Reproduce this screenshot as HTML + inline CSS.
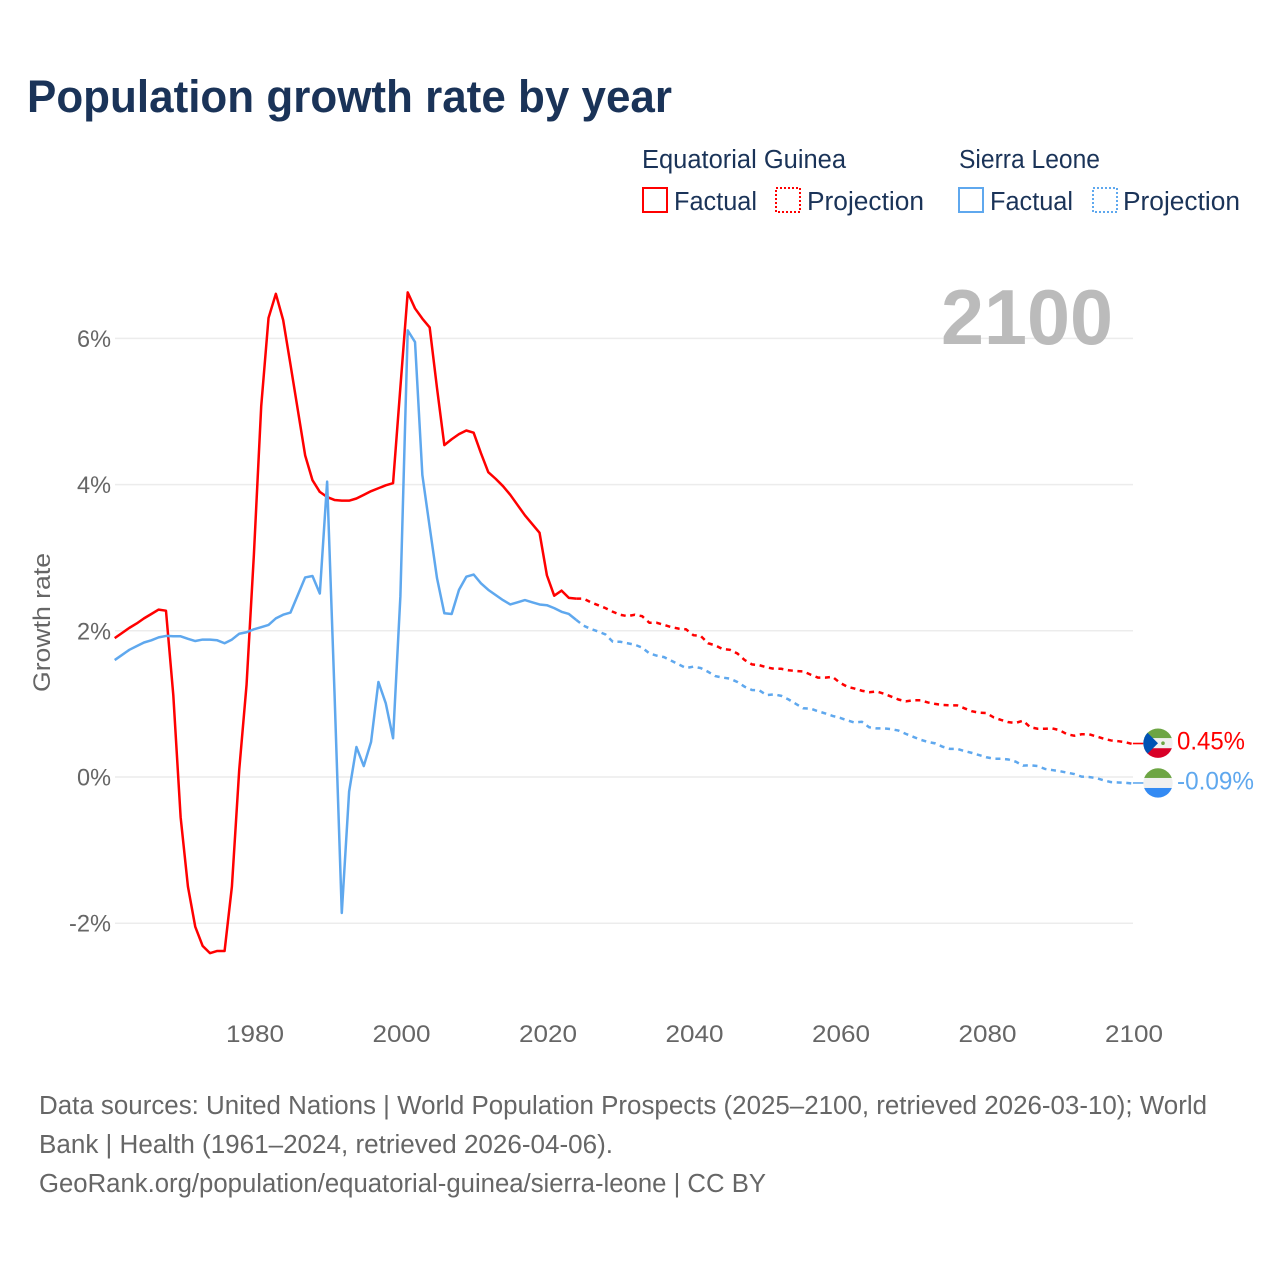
<!DOCTYPE html>
<html lang="en">
<head>
<meta charset="utf-8">
<title>Population growth rate by year</title>
<style>
html,body{margin:0;padding:0;background:#fff;width:1280px;height:1280px;overflow:hidden}
svg{display:block}
text{font-family:"Liberation Sans",sans-serif}
.lg{font-size:25.5px;fill:#1a3358}
.ax{font-size:24.5px;fill:#666}
.ft{font-size:25.5px;fill:#666}
</style>
</head>
<body>
<svg id="chart" xmlns="http://www.w3.org/2000/svg" width="1280" height="1280" viewBox="0 0 1280 1280">
  <defs>
    <clipPath id="flag-clip-a"><circle cx="0" cy="0" r="14.7"/></clipPath>
    <clipPath id="flag-clip-b"><circle cx="0" cy="0" r="14.7"/></clipPath>
  </defs>
  <rect x="0" y="0" width="1280" height="1280" fill="#fff"/>
  <text x="27" y="112" font-size="45" font-weight="700" fill="#1a3358" textLength="645" lengthAdjust="spacingAndGlyphs">Population growth rate by year</text>

  <g>
    <text class="lg" x="642" y="168" textLength="204" lengthAdjust="spacingAndGlyphs">Equatorial Guinea</text>
    <text class="lg" x="959" y="168" textLength="141" lengthAdjust="spacingAndGlyphs">Sierra Leone</text>
    <rect x="643" y="188" width="24" height="24" fill="none" stroke="#ff0000" stroke-width="2"/>
    <text class="lg" x="674" y="210" textLength="83" lengthAdjust="spacingAndGlyphs">Factual</text>
    <rect x="776" y="188" width="24" height="24" fill="none" stroke="#ff0000" stroke-width="2" stroke-dasharray="2 2"/>
    <text class="lg" x="807" y="210" textLength="117" lengthAdjust="spacingAndGlyphs">Projection</text>
    <rect x="959" y="188" width="24" height="24" fill="none" stroke="#5fa8ee" stroke-width="2"/>
    <text class="lg" x="990" y="210" textLength="83" lengthAdjust="spacingAndGlyphs">Factual</text>
    <rect x="1093" y="188" width="24" height="24" fill="none" stroke="#5fa8ee" stroke-width="2" stroke-dasharray="2 2"/>
    <text class="lg" x="1123" y="210" textLength="117" lengthAdjust="spacingAndGlyphs">Projection</text>
  </g>

  <g id="grid"></g>
  <g id="yticks"></g>
  <g id="xticks"></g>
  <text class="ax" transform="translate(50,692) rotate(-90)" x="0" y="0" textLength="139" lengthAdjust="spacingAndGlyphs">Growth rate</text>
  <text x="941" y="344" font-size="78" font-weight="700" fill="#bbbbbb" textLength="172" lengthAdjust="spacingAndGlyphs">2100</text>
  <g id="series"></g>

  <g id="flag-eg">
    <g clip-path="url(#flag-clip-a)">
      <rect x="-15" y="-15" width="30" height="10" fill="#6da544"/>
      <rect x="-15" y="-5" width="30" height="10" fill="#f0f0f0"/>
      <rect x="-15" y="5" width="30" height="10" fill="#d80027"/>
      <polygon points="-15,-15 0,0 -15,15" fill="#0052b4"/>
      <circle cx="5" cy="0" r="1.8" fill="#6da544"/>
    </g>
  </g>
  <g id="flag-sl">
    <g clip-path="url(#flag-clip-b)">
      <rect x="-15" y="-15" width="30" height="10" fill="#6da544"/>
      <rect x="-15" y="-5" width="30" height="10" fill="#f0f0f0"/>
      <rect x="-15" y="5" width="30" height="10" fill="#338af3"/>
    </g>
  </g>
  <text id="end-eg" x="1177" y="750" font-size="25" fill="#ff0000" textLength="68" lengthAdjust="spacingAndGlyphs">0.45%</text>
  <text id="end-sl" x="1177" y="790" font-size="25" fill="#5fa8ee" textLength="77" lengthAdjust="spacingAndGlyphs">-0.09%</text>

  <g>
    <text class="ft" x="39" y="1114" textLength="1168" lengthAdjust="spacingAndGlyphs">Data sources: United Nations | World Population Prospects (2025–2100, retrieved 2026-03-10); World</text>
    <text class="ft" x="39" y="1153" textLength="574" lengthAdjust="spacingAndGlyphs">Bank | Health (1961–2024, retrieved 2026-04-06).</text>
    <text class="ft" x="39" y="1192" textLength="727" lengthAdjust="spacingAndGlyphs">GeoRank.org/population/equatorial-guinea/sierra-leone | CC BY</text>
  </g>
</svg>
<script>
const factualYears = [1961,1962,1963,1964,1965,1966,1967,1968,1969,1970,1971,1972,1973,1974,1975,1976,1977,1978,1979,1980,1981,1982,1983,1984,1985,1986,1987,1988,1989,1990,1991,1992,1993,1994,1995,1996,1997,1998,1999,2000,2001,2002,2003,2004,2005,2006,2007,2008,2009,2010,2011,2012,2013,2014,2015,2016,2017,2018,2019,2020,2021,2022,2023,2024];
const projectionYears = [2024,2025,2026,2027,2028,2029,2030,2031,2032,2033,2034,2035,2036,2037,2038,2039,2040,2041,2042,2043,2044,2045,2046,2047,2048,2049,2050,2051,2052,2053,2054,2055,2056,2057,2058,2059,2060,2061,2062,2063,2064,2065,2066,2067,2068,2069,2070,2071,2072,2073,2074,2075,2076,2077,2078,2079,2080,2081,2082,2083,2084,2085,2086,2087,2088,2089,2090,2091,2092,2093,2094,2095,2096,2097,2098,2099,2100];
const egFactual = [1.90,1.97,2.04,2.10,2.17,2.23,2.29,2.275,1.12,-0.55,-1.50,-2.05,-2.31,-2.41,-2.38,-2.38,-1.50,0.10,1.26,3.04,5.07,6.28,6.61,6.25,5.64,5.02,4.40,4.06,3.90,3.83,3.79,3.78,3.78,3.81,3.86,3.91,3.95,3.99,4.02,5.33,6.63,6.41,6.27,6.15,5.32,4.54,4.62,4.69,4.74,4.71,4.43,4.17,4.08,3.98,3.86,3.72,3.58,3.46,3.34,2.76,2.48,2.55,2.45,2.44];
const egProjection = [2.44,2.44,2.39,2.35,2.31,2.26,2.22,2.20,2.22,2.20,2.11,2.11,2.08,2.05,2.03,2.02,1.94,1.93,1.83,1.80,1.75,1.74,1.69,1.60,1.54,1.53,1.50,1.48,1.48,1.46,1.45,1.445,1.40,1.36,1.36,1.37,1.29,1.235,1.21,1.18,1.16,1.17,1.14,1.10,1.06,1.035,1.05,1.05,1.02,1.00,0.985,0.98,0.98,0.94,0.90,0.88,0.875,0.815,0.78,0.75,0.74,0.77,0.68,0.66,0.66,0.665,0.64,0.585,0.565,0.585,0.585,0.555,0.525,0.50,0.49,0.475,0.45];
const slFactual = [1.60,1.67,1.74,1.79,1.84,1.87,1.91,1.93,1.925,1.925,1.89,1.86,1.88,1.88,1.87,1.83,1.88,1.96,1.98,2.02,2.05,2.08,2.17,2.22,2.25,2.49,2.73,2.75,2.51,4.04,1.17,-1.86,-0.20,0.41,0.15,0.48,1.30,1.01,0.53,2.47,6.11,5.95,4.13,3.42,2.72,2.24,2.23,2.56,2.74,2.77,2.65,2.56,2.49,2.42,2.36,2.39,2.42,2.39,2.36,2.35,2.31,2.26,2.23,2.15];
const slProjection = [2.15,2.07,2.025,1.99,1.95,1.85,1.85,1.83,1.81,1.77,1.69,1.66,1.64,1.59,1.54,1.49,1.51,1.49,1.44,1.38,1.36,1.345,1.30,1.235,1.19,1.185,1.12,1.13,1.11,1.06,1.00,0.94,0.935,0.90,0.87,0.835,0.81,0.775,0.745,0.755,0.68,0.665,0.665,0.655,0.635,0.59,0.55,0.51,0.48,0.46,0.415,0.385,0.385,0.355,0.33,0.30,0.27,0.25,0.25,0.24,0.21,0.155,0.16,0.15,0.11,0.095,0.08,0.06,0.04,0.005,0.00,-0.015,-0.045,-0.07,-0.075,-0.08,-0.09];
const yTickValues = [-2,0,2,4,6];
const yTickLabels = ["-2%","0%","2%","4%","6%"];
const xTickValues = [1980,2000,2020,2040,2060,2080,2100];
const xTickLabels = ["1980","2000","2020","2040","2060","2080","2100"];

const SVGNS = "http://www.w3.org/2000/svg";
function xScale(year) {
  return 114.7 + (year - 1961) * (1132.9 - 114.7) / (2100 - 1961);
}
function yScale(value) {
  return 777 - value * 73.1;
}
function pathFor(years, values) {
  return values.map(function (v, i) {
    return (i ? "L" : "M") + xScale(years[i]).toFixed(2) + " " + yScale(v).toFixed(2);
  }).join("");
}

const gridGroup = document.getElementById("grid");
const yTickGroup = document.getElementById("yticks");
yTickValues.forEach(function (v, i) {
  const line = document.createElementNS(SVGNS, "line");
  
  
  line.setAttribute("x1", 115);
  line.setAttribute("x2", 1133);
  line.setAttribute("y1", yScale(v));
  line.setAttribute("y2", yScale(v));
  line.setAttribute("stroke", "#ececec");
  line.setAttribute("stroke-width", "1.5");
  gridGroup.appendChild(line);
  const label = document.createElementNS(SVGNS, "text");
  
  
  label.setAttribute("class", "ax");
  label.setAttribute("x", 111);
  label.setAttribute("y", yScale(v) + 8.5);
  label.setAttribute("text-anchor", "end");
  label.setAttribute("textLength", yTickLabels[i].length > 2 ? "42" : "34");
  label.setAttribute("lengthAdjust", "spacingAndGlyphs");
  label.textContent = yTickLabels[i];
  yTickGroup.appendChild(label);
});

const xTickGroup = document.getElementById("xticks");
xTickValues.forEach(function (v, i) {
  const label = document.createElementNS(SVGNS, "text");
  
  
  label.setAttribute("class", "ax");
  label.setAttribute("x", xScale(v) + 1.1);
  label.setAttribute("y", 1042);
  label.setAttribute("text-anchor", "middle");
  label.setAttribute("textLength", "58");
  label.setAttribute("lengthAdjust", "spacingAndGlyphs");
  label.textContent = xTickLabels[i];
  xTickGroup.appendChild(label);
});

const seriesGroup = document.getElementById("series");

const egFactualLine = document.createElementNS(SVGNS, "path");


egFactualLine.setAttribute("d", pathFor(factualYears, egFactual));
egFactualLine.setAttribute("fill", "none");
egFactualLine.setAttribute("stroke", "#ff0000");
egFactualLine.setAttribute("stroke-width", "2.5");
egFactualLine.setAttribute("stroke-linejoin", "round");
seriesGroup.appendChild(egFactualLine);

const egProjectionLine = document.createElementNS(SVGNS, "path");


egProjectionLine.setAttribute("d", pathFor(projectionYears, egProjection));
egProjectionLine.setAttribute("fill", "none");
egProjectionLine.setAttribute("stroke", "#ff0000");
egProjectionLine.setAttribute("stroke-width", "2.5");
egProjectionLine.setAttribute("stroke-dasharray", "5 4.6");
seriesGroup.appendChild(egProjectionLine);

const slFactualLine = document.createElementNS(SVGNS, "path");


slFactualLine.setAttribute("d", pathFor(factualYears, slFactual));
slFactualLine.setAttribute("fill", "none");
slFactualLine.setAttribute("stroke", "#5fa8ee");
slFactualLine.setAttribute("stroke-width", "2.5");
slFactualLine.setAttribute("stroke-linejoin", "round");
seriesGroup.appendChild(slFactualLine);

const slProjectionLine = document.createElementNS(SVGNS, "path");


slProjectionLine.setAttribute("d", pathFor(projectionYears, slProjection));
slProjectionLine.setAttribute("fill", "none");
slProjectionLine.setAttribute("stroke", "#5fa8ee");
slProjectionLine.setAttribute("stroke-width", "2.5");
slProjectionLine.setAttribute("stroke-dasharray", "5 4.6");
seriesGroup.appendChild(slProjectionLine);

const egLast = egProjection[egProjection.length - 1];
const slLast = slProjection[slProjection.length - 1];

const egConnector = document.createElementNS(SVGNS, "line");


egConnector.setAttribute("x1", xScale(2100));
egConnector.setAttribute("x2", 1146);
egConnector.setAttribute("y1", yScale(egLast) - 0.6);
egConnector.setAttribute("y2", yScale(egLast) - 0.6);
egConnector.setAttribute("stroke", "#ff0000");
egConnector.setAttribute("stroke-width", "1.6");
seriesGroup.appendChild(egConnector);

const slConnector = document.createElementNS(SVGNS, "line");


slConnector.setAttribute("x1", xScale(2100));
slConnector.setAttribute("x2", 1146);
slConnector.setAttribute("y1", yScale(slLast) - 0.6);
slConnector.setAttribute("y2", yScale(slLast) - 0.6);
slConnector.setAttribute("stroke", "#5fa8ee");
slConnector.setAttribute("stroke-width", "1.6");
seriesGroup.appendChild(slConnector);

document.getElementById("flag-eg").setAttribute("transform", "translate(1158," + (yScale(egLast) - 0.9) + ")");
document.getElementById("flag-sl").setAttribute("transform", "translate(1158," + (yScale(slLast) - 0.6) + ")");
document.getElementById("end-eg").setAttribute("y", yScale(egLast) + 5.5);
document.getElementById("end-sl").setAttribute("y", yScale(slLast) + 5.9);
</script>
</body>
</html>
